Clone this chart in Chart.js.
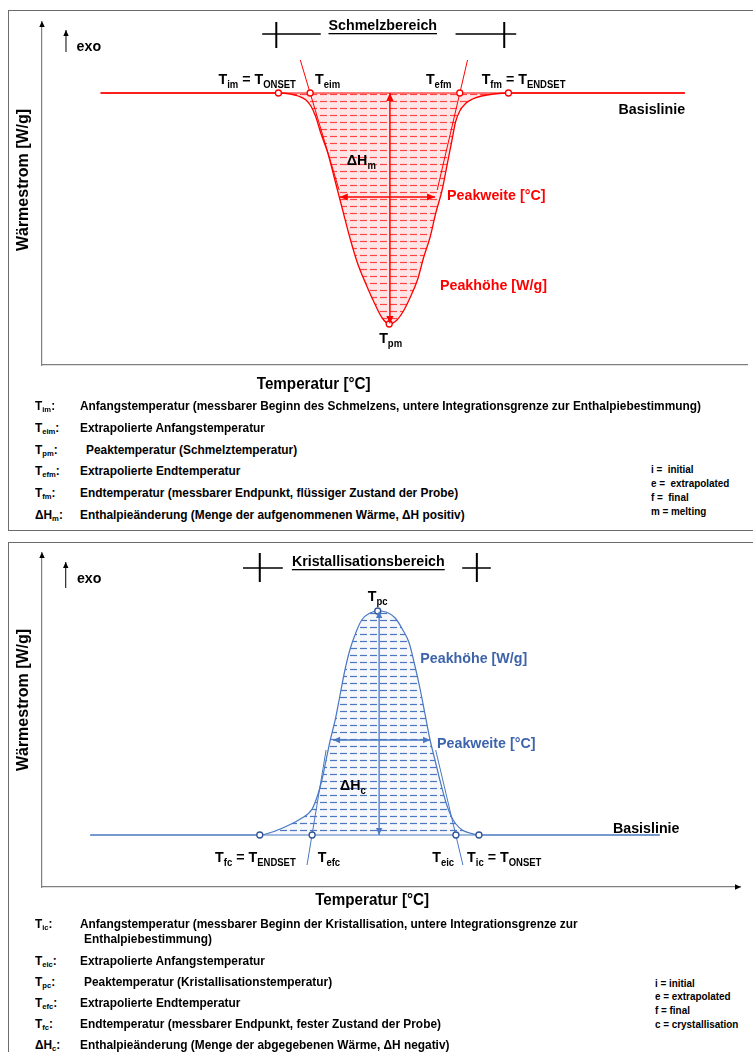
<!DOCTYPE html>
<html>
<head>
<meta charset="utf-8">
<script src="https://cdn.jsdelivr.net/npm/chart.js@4.4.0/dist/chart.umd.min.js"></script>
<style>
body{margin:0;width:753px;height:1052px;overflow:hidden;background:#fff;position:relative;font-family:"Liberation Sans",Arial,sans-serif;}
.box{position:absolute;left:8px;width:800px;box-sizing:border-box;border:1.5px solid #6b6b6b;}
canvas{position:absolute;left:0;}
.lg{position:absolute;font-weight:bold;font-size:12.5px;line-height:14px;white-space:nowrap;transform:scaleX(0.95);transform-origin:0 0;color:#000;}
.lg sub{font-size:8px;vertical-align:-2px;}
.rl{position:absolute;font-weight:bold;font-size:11.5px;line-height:13px;white-space:nowrap;transform:scaleX(0.86);transform-origin:0 0;}
</style>
</head>
<body>
<div class="box" style="top:10px;height:521px"></div>
<div class="box" style="top:542px;height:600px"></div>
<canvas id="melt" width="753" height="400" style="top:0"></canvas>
<canvas id="cryst" width="753" height="380" style="top:540px"></canvas>

<!-- Legende oben -->
<div class="lg" style="left:35px;top:399px">T<sub>im</sub>:</div>
<div class="lg" style="left:80px;top:399px">Anfangstemperatur (messbarer Beginn des Schmelzens, untere Integrationsgrenze zur Enthalpiebestimmung)</div>
<div class="lg" style="left:35px;top:421px">T<sub>eim</sub>:</div>
<div class="lg" style="left:80px;top:421px">Extrapolierte Anfangstemperatur</div>
<div class="lg" style="left:35px;top:443px">T<sub>pm</sub>:</div>
<div class="lg" style="left:86px;top:443px">Peaktemperatur (Schmelztemperatur)</div>
<div class="lg" style="left:35px;top:464px">T<sub>efm</sub>:</div>
<div class="lg" style="left:80px;top:464px">Extrapolierte Endtemperatur</div>
<div class="lg" style="left:35px;top:486px">T<sub>fm</sub>:</div>
<div class="lg" style="left:80px;top:486px">Endtemperatur (messbarer Endpunkt, flüssiger Zustand der Probe)</div>
<div class="lg" style="left:35px;top:508px">ΔH<sub>m</sub>:</div>
<div class="lg" style="left:80px;top:508px">Enthalpieänderung (Menge der aufgenommenen Wärme, ΔH positiv)</div>
<div class="rl" style="left:651px;top:463px">i =&nbsp; initial</div>
<div class="rl" style="left:651px;top:477px">e =&nbsp; extrapolated</div>
<div class="rl" style="left:651px;top:491px">f =&nbsp; final</div>
<div class="rl" style="left:651px;top:505px">m = melting</div>

<!-- Legende unten -->
<div class="lg" style="left:35px;top:917px">T<sub>ic</sub>:</div>
<div class="lg" style="left:80px;top:917px">Anfangstemperatur (messbarer Beginn der Kristallisation, untere Integrationsgrenze zur</div>
<div class="lg" style="left:84px;top:932px">Enthalpiebestimmung)</div>
<div class="lg" style="left:35px;top:954px">T<sub>eic</sub>:</div>
<div class="lg" style="left:80px;top:954px">Extrapolierte Anfangstemperatur</div>
<div class="lg" style="left:35px;top:975px">T<sub>pc</sub>:</div>
<div class="lg" style="left:84px;top:975px">Peaktemperatur (Kristallisationstemperatur)</div>
<div class="lg" style="left:35px;top:996px">T<sub>efc</sub>:</div>
<div class="lg" style="left:80px;top:996px">Extrapolierte Endtemperatur</div>
<div class="lg" style="left:35px;top:1017px">T<sub>fc</sub>:</div>
<div class="lg" style="left:80px;top:1017px">Endtemperatur (messbarer Endpunkt, fester Zustand der Probe)</div>
<div class="lg" style="left:35px;top:1038px">ΔH<sub>c</sub>:</div>
<div class="lg" style="left:80px;top:1038px">Enthalpieänderung (Menge der abgegebenen Wärme, ΔH negativ)</div>
<div class="rl" style="left:655px;top:977px">i = initial</div>
<div class="rl" style="left:655px;top:990px">e = extrapolated</div>
<div class="rl" style="left:655px;top:1004px">f = final</div>
<div class="rl" style="left:655px;top:1018px">c = crystallisation</div>

<script>
var RED = '#ff0000';
var BLUE = '#4a78c2';
var BLUE_TXT = '#3d64ab';

// Schmelzpeak (Temperatur, Wärmestrom)
var meltT = [8.3, 30.7, 33.5, 35.2, 36.3, 37.4, 38.1, 38.8, 39.5, 40.5, 41.5, 42.6, 43.6, 44.7, 45.9, 47.1, 48.2, 49.2,
             50.3, 51.3, 52.2, 53.2, 54.1, 55.0, 55.8, 56.7, 57.4, 58.1, 58.6, 59.2, 60.1, 61.0, 62.3, 64.0, 66.1, 70.0, 91.1];
var meltQ = [0, 0, 0, -0.01, -0.03, -0.07, -0.13, -0.24, -0.40, -0.60, -0.87, -1.17, -1.44, -1.70, -1.91, -2.10, -2.25, -2.31,
             -2.27, -2.17, -2.04, -1.87, -1.64, -1.44, -1.20, -0.97, -0.72, -0.47, -0.29, -0.18, -0.10, -0.06, -0.03, -0.01, 0, 0, 0];
var meltBaseT = [8.3, 91.1];
var meltMarkT = [33.5, 38.0, 49.2, 59.2, 66.1];   // Tim, Teim, Tpm, Tefm, Tfm
var meltMarkQ = [0, 0, -2.31, 0, 0];

// Kristallisationspeak
var crystT = [6.9, 31.2, 33.4, 35.1, 37.0, 38.7, 39.5, 40.1, 40.7, 41.3, 42.0, 42.7, 43.4, 44.1, 45.0, 45.8, 47.0, 48.1,
              49.3, 50.6, 51.7, 52.6, 53.4, 54.2, 54.9, 55.6, 56.3, 57.0, 57.9, 58.6, 59.3, 60.2, 61.3, 62.6, 65.6, 88.5];
var crystQ = [0, 0, 0.04, 0.09, 0.16, 0.26, 0.40, 0.55, 0.75, 0.95, 1.15, 1.40, 1.65, 1.85, 2.03, 2.15, 2.22, 2.24,
              2.23, 2.17, 2.05, 1.92, 1.70, 1.45, 1.20, 0.95, 0.75, 0.55, 0.32, 0.19, 0.11, 0.05, 0.02, 0, 0, 0];
var crystBaseT = [6.9, 88.5];
var crystMarkT = [31.2, 38.7, 48.1, 59.3, 62.6];  // Tfc, Tefc, Tpc, Teic, Tic
var crystMarkQ = [0, 0, 2.24, 0, 0];

function pts(xs, ys){
    return xs.map(function(x, i){ return {x:x, y:ys[i]}; });
}
function seg(xs, ys, color, width, extra){
    return Object.assign({data:pts(xs, ys), borderColor:color, borderWidth:width, pointRadius:0,
        fill:false, tension:0, clip:false, order:1}, extra || {});
}
function hatch(canvasId, bg, dash){
    var c = document.createElement('canvas');
    c.width = 10; c.height = 7;
    var g = c.getContext('2d');
    g.fillStyle = bg; g.fillRect(0, 0, 10, 7);
    g.strokeStyle = dash; g.lineWidth = 1.2;
    g.beginPath(); g.moveTo(0, 3.5); g.lineTo(7, 3.5); g.stroke();
    return document.getElementById(canvasId).getContext('2d').createPattern(c, 'repeat');
}

function head(ctx, from, to, color, len){
    var a = Math.atan2(to.y - from.y, to.x - from.x);
    var w = len * 0.45;
    ctx.save();
    ctx.fillStyle = color;
    ctx.beginPath();
    ctx.moveTo(to.x, to.y);
    ctx.lineTo(to.x - len*Math.cos(a) + w*Math.sin(a), to.y - len*Math.sin(a) - w*Math.cos(a));
    ctx.lineTo(to.x - len*Math.cos(a) - w*Math.sin(a), to.y - len*Math.sin(a) + w*Math.cos(a));
    ctx.closePath();
    ctx.fill();
    ctx.restore();
}

function drawRich(ctx, l, x, y){
    var size = l.size || 15, sub = Math.round(size*0.66), sx = l.sx || 0.95;
    var fam = '"Liberation Sans", Arial, sans-serif';
    ctx.save();
    ctx.fillStyle = l.color || '#000';
    ctx.textBaseline = 'alphabetic';
    var w = 0;
    l.parts.forEach(function(p){
        ctx.font = 'bold ' + (p[1] ? sub : size) + 'px ' + fam;
        w += ctx.measureText(p[0]).width;
    });
    ctx.translate(x, y);
    ctx.scale(sx, 1);
    var cx = l.align === 'center' ? -w/2 : 0, start = cx;
    l.parts.forEach(function(p){
        ctx.font = 'bold ' + (p[1] ? sub : size) + 'px ' + fam;
        ctx.fillText(p[0], cx, p[1] ? size*0.27 : 0);
        cx += ctx.measureText(p[0]).width;
    });
    if (l.underline) ctx.fillRect(start, 3, w, 1.3);
    ctx.restore();
}

var diagramPlugin = {
    id:'diagram',
    afterDatasetsDraw:function(chart){
        var ctx = chart.ctx;
        chart.data.datasets.forEach(function(ds, i){
            var p = chart.getDatasetMeta(i).data;
            if (ds.arrowEnd) head(ctx, p[p.length-2], p[p.length-1], ds.borderColor, ds.headLen || 8);
            if (ds.arrowStart) head(ctx, p[1], p[0], ds.borderColor, ds.headLen || 8);
        });
    },
    afterDraw:function(chart){
        var o = chart.options.plugins.diagram, ctx = chart.ctx, a = chart.chartArea;
        var xs = chart.scales.x, ys = chart.scales.y;
        head(ctx, {x:a.left, y:a.top + 10}, {x:a.left, y:a.top - 1}, '#000', 6);
        if (o.xArrow) head(ctx, {x:a.right - 10, y:a.bottom}, {x:a.right + 1, y:a.bottom}, '#000', 6);
        o.labels.forEach(function(l){
            drawRich(ctx, l, xs.getPixelForValue(l.x), ys.getPixelForValue(l.y));
        });
        ctx.save();
        ctx.translate(a.left - 18, ys.getPixelForValue(o.yTitle));
        ctx.rotate(-Math.PI/2);
        ctx.font = 'bold 16px "Liberation Sans", Arial, sans-serif';
        ctx.textAlign = 'center';
        ctx.textBaseline = 'middle';
        ctx.fillStyle = '#000';
        ctx.fillText('Wärmestrom [W/g]', 0, 0);
        ctx.restore();
    }
};

function makeChart(id, datasets, yMin, yMax, padding, diagram){
    var axis = function(min, max){
        return {type:'linear', min:min, max:max, ticks:{display:false},
            grid:{display:false, drawTicks:false}, border:{color:'#7f7f7f', width:1.2}};
    };
    return new Chart(document.getElementById(id), {
        type:'line',
        data:{datasets:datasets},
        options:{
            responsive:false,
            animation:false,
            layout:{padding:padding},
            plugins:{legend:{display:false}, tooltip:{enabled:false}, diagram:diagram},
            scales:{x:axis(0, 100), y:axis(yMin, yMax)}
        },
        plugins:[diagramPlugin]
    });
}

// ---------- oben: Schmelzen ----------
makeChart('melt', [
    seg(meltMarkT, meltMarkQ, RED, 1.3, {showLine:false, pointRadius:3, pointBorderColor:RED,
        pointBackgroundColor:'#fff', pointBorderWidth:1.3, order:0}),
    seg([49.3, 49.3], [0, -2.31], RED, 1.5, {arrowStart:true, arrowEnd:true}),
    seg([42.2, 55.7], [-1.04, -1.04], RED, 1.5, {arrowStart:true, arrowEnd:true}),
    seg([36.6, 42.1], [0.33, -0.97], RED, 1),
    seg([60.3, 56.0], [0.33, -0.97], RED, 1),
    seg(meltBaseT, [0, 0], RED, 1.2),
    seg([3.4, 3.4], [0.41, 0.63], '#000', 1, {arrowEnd:true, headLen:6}),
    seg([31.2, 39.5], [0.59, 0.59], '#000', 1.5),
    seg([58.6, 67.2], [0.59, 0.59], '#000', 1.5),
    seg([33.2, 33.2], [0.71, 0.45], '#000', 2),
    seg([65.5, 65.5], [0.71, 0.45], '#000', 2),
    {data:pts(meltT, meltQ), borderColor:RED, borderWidth:1.3, pointRadius:0, clip:false,
        cubicInterpolationMode:'monotone', fill:'origin',
        backgroundColor:hatch('melt', 'rgba(255,0,0,0.10)', 'rgba(255,40,40,0.85)'), order:5}
], -2.72, 0.71, {left:42, top:22, right:0, bottom:35}, {
    yTitle:-0.87,
    labels:[
        {x:4.9, y:0.42, parts:[['exo',0]]},
        {x:40.6, y:0.63, parts:[['Schmelzbereich',0]], underline:true},
        {x:25.0, y:0.09, parts:[['T',0],['im',1],[' = T',0],['ONSET',1]]},
        {x:38.7, y:0.09, parts:[['T',0],['eim',1]]},
        {x:54.4, y:0.09, parts:[['T',0],['efm',1]]},
        {x:62.3, y:0.09, parts:[['T',0],['fm',1],[' = T',0],['ENDSET',1]]},
        {x:81.7, y:-0.21, parts:[['Basislinie',0]]},
        {x:43.2, y:-0.72, parts:[['ΔH',0],['m',1]]},
        {x:57.4, y:-1.07, parts:[['Peakweite [°C]',0]], color:RED},
        {x:56.4, y:-1.97, parts:[['Peakhöhe [W/g]',0]], color:RED},
        {x:49.4, y:-2.50, parts:[['T',0],['pm',1]], align:'center'},
        {x:38.5, y:-2.96, parts:[['Temperatur [°C]',0]], align:'center', size:16}
    ]
});

// ---------- unten: Kristallisation ----------
makeChart('cryst', [
    seg(crystMarkT, crystMarkQ, '#2f5597', 1.3, {showLine:false, pointRadius:3, pointBorderColor:'#2f5597',
        pointBackgroundColor:'#fff', pointBorderWidth:1.3, order:0}),
    seg([48.3, 48.3], [2.24, 0], BLUE, 1.3, {arrowStart:true, arrowEnd:true, headLen:7}),
    seg([41.7, 55.6], [0.95, 0.95], BLUE, 1.3, {arrowStart:true, arrowEnd:true, headLen:7}),
    seg([37.97, 40.7], [-0.30, 0.85], BLUE, 1),
    seg([60.3, 56.4], [-0.30, 0.85], BLUE, 1),
    seg(crystBaseT, [0, 0], BLUE, 1.2),
    seg([3.4, 3.4], [2.47, 2.73], '#000', 1, {arrowEnd:true, headLen:6}),
    seg([28.8, 34.5], [2.67, 2.67], '#000', 1.5),
    seg([60.2, 64.3], [2.67, 2.67], '#000', 1.5),
    seg([31.2, 31.2], [2.82, 2.53], '#000', 2),
    seg([62.3, 62.3], [2.82, 2.53], '#000', 2),
    {data:pts(crystT, crystQ), borderColor:BLUE, borderWidth:1.2, pointRadius:0, clip:false,
        cubicInterpolationMode:'monotone', fill:'origin',
        backgroundColor:hatch('cryst', 'rgba(74,120,194,0.05)', 'rgba(60,105,185,0.9)'), order:5}
], -0.52, 2.82, {left:42, top:13, right:13, bottom:33}, {
    yTitle:1.35,
    xArrow:true,
    labels:[
        {x:5.0, y:2.52, parts:[['exo',0]]},
        {x:35.8, y:2.69, parts:[['Kristallisationsbereich',0]], underline:true},
        {x:48.1, y:2.34, parts:[['T',0],['pc',1]], align:'center'},
        {x:54.2, y:1.72, parts:[['Peakhöhe [W/g]',0]], color:BLUE_TXT},
        {x:56.6, y:0.87, parts:[['Peakweite [°C]',0]], color:BLUE_TXT},
        {x:42.7, y:0.45, parts:[['ΔH',0],['c',1]]},
        {x:81.8, y:0.02, parts:[['Basislinie',0]]},
        {x:24.8, y:-0.27, parts:[['T',0],['fc',1],[' = T',0],['ENDSET',1]]},
        {x:39.5, y:-0.27, parts:[['T',0],['efc',1]]},
        {x:55.9, y:-0.27, parts:[['T',0],['eic',1]]},
        {x:60.9, y:-0.27, parts:[['T',0],['ic',1],[' = T',0],['ONSET',1]]},
        {x:47.3, y:-0.70, parts:[['Temperatur [°C]',0]], align:'center', size:16}
    ]
});
</script>
</body>
</html>
